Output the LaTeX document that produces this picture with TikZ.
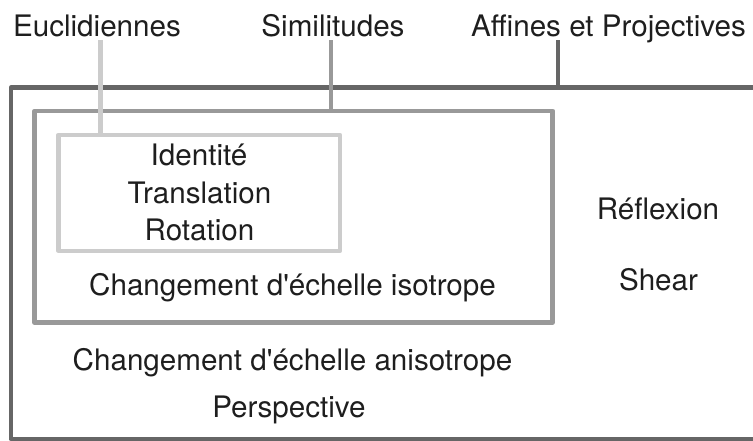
\documentclass[tikz,border=0pt]{standalone}
\usepackage{fontspec}
\setmainfont{TeX Gyre Heros}
\begin{document}
\begin{tikzpicture}[x=1pt,y=-1pt,
  txt/.style={anchor=base, inner sep=0pt, text=textc, font=\fontsize{29.6}{35}\selectfont},
  boxline/.style={line width=4.5pt, line join=round},
  outerc/.style={boxline, draw=c1},
  midc/.style={boxline, draw=c2},
  innc/.style={boxline, draw=c3},
  boxn/.style={rectangle, inner sep=0pt, fill=none}
]
\definecolor{c1}{HTML}{666666}
\definecolor{c2}{HTML}{999999}
\definecolor{c3}{HTML}{CCCCCC}
\definecolor{textc}{HTML}{1E1E1E}
\useasboundingbox (0,0) rectangle (753,440);
\begin{scope}
\clip (0,0) rectangle (753,440);
% outer box (extends past the right edge)
\draw[outerc] (775,87.5) -- (10.8,87.5) -- (10.8,438.8) -- (775,438.8);
\coordinate (outerTop) at (558,87.5);
% middle and inner boxes
\node[boxn, midc, minimum width=518.2pt, minimum height=211.7pt] (mid) at (293.6,216.65) {};
\node[boxn, innc, minimum width=281.7pt, minimum height=115.8pt] (inn) at (199.2,192.9) {};
% header labels
\node[txt] (lE) at (97,36) {Euclidiennes};
\node[txt] (lS) at (333,36) {Similitudes};
\node[txt] (lA) at (608.5,36) {Affines et Projectives};
% leaders
\coordinate (eTop) at (100.5,40);
\coordinate (sTop) at (331,40);
\coordinate (aTop) at (558,40);
\draw[innc] (eTop) -- (eTop |- inn.north);
\draw[midc] (sTop) -- (sTop |- mid.north);
\draw[outerc] (aTop) -- (outerTop);
\end{scope}
% inner texts
\node[txt] (t1) at (199,165) {Identité};
\node[txt] (t2) at (199.5,203) {Translation};
\node[txt] (t3) at (199.5,240) {Rotation};
\node[txt] (t4) at (292.5,295) {Changement d\textquotesingle échelle isotrope};
\node[txt] (t5) at (292.5,370) {Changement d\textquotesingle échelle anisotrope};
\node[txt] (t6) at (289,417) {Perspective};
\node[txt] (t7) at (658,219) {Réflexion};
\node[txt] (t8) at (658.5,290) {Shear};
\end{tikzpicture}
\end{document}
